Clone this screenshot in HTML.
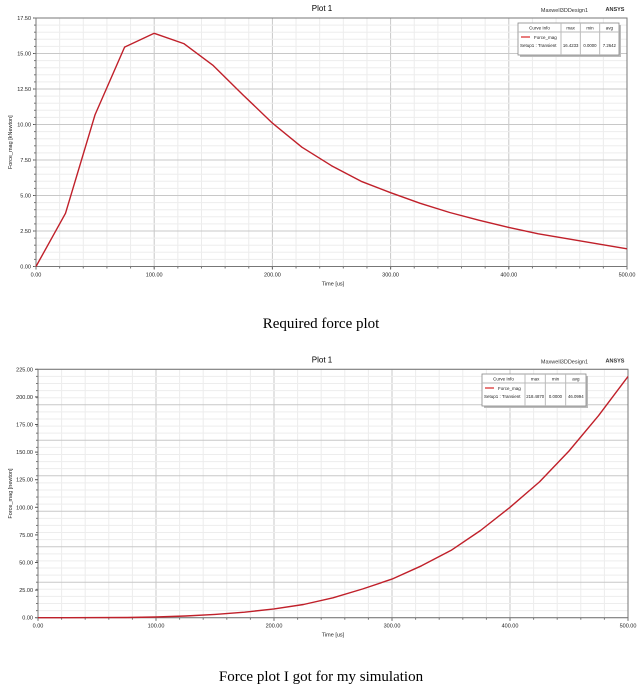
<!DOCTYPE html>
<html><head><meta charset="utf-8">
<style>
body{margin:0;background:#fff;width:642px;height:696px;overflow:hidden;font-family:"Liberation Sans",sans-serif;}
svg{display:block}
.cap{position:absolute;left:0;width:642px;text-align:center;font-family:"Liberation Serif",serif;font-size:15px;color:#000}
</style></head>
<body>
<svg id="chart" width="642" height="696" style="position:absolute;left:0;top:0"></svg>
<div class="cap" style="top:316px">Required force plot</div>
<div class="cap" style="top:669px">Force plot I got for my simulation</div>
<script>
const times = [0,25,50,75,100,125,150,175,200,225,250,275,300,325,350,375,400,425,450,475,500];
const force1 = [0,3.75,10.7,15.45,16.42,15.7,14.15,12.1,10.1,8.4,7.1,6.0,5.2,4.45,3.8,3.25,2.75,2.3,1.95,1.6,1.25];
const force2 = [0,0,0.05,0.2,0.6,1.5,3,5,8,12,18,26,35,47,61,79,100,123,151,183,218.5];
const xTicks = [0,100,200,300,400,500];
const yTicks1 = [0,2.5,5,7.5,10,12.5,15,17.5];
const yTicks2 = [0,25,50,75,100,125,150,175,200,225];
const legend1 = ["16.4233","0.0000","7.2642"];
const legend2 = ["218.4870","0.0000","46.0994"];

const NS="http://www.w3.org/2000/svg";
const svg=document.getElementById('chart');
function mk(tag,attrs,parent){const e=document.createElementNS(NS,tag);for(const k in attrs)e.setAttribute(k,attrs[k]);(parent||svg).appendChild(e);return e;}

function drawPlot(o){
  const g=mk('g',{});
  
  
  const sx=v=>o.x0+(v-0)/(500)*(o.x1-o.x0);
  const sy=v=>o.y0-(v/o.ymax)*(o.y0-o.y1);
  // minor vertical grid
  for(let v=0;v<=500;v+=20){const x=sx(v);mk('line',{x1:x,x2:x,y1:o.y1,y2:o.y0,stroke:v%100===0?'#c8c8c8':'#ececec','stroke-width':1},g);}
  const ystep=o.ymax/35;
  for(let i=0;i<=35;i++){const y=sy(i*ystep);mk('line',{x1:o.x0,x2:o.x1,y1:y,y2:y,stroke:i%5===0?'#c8c8c8':'#ededed','stroke-width':1},g);}
  // axes
  mk('rect',{x:o.x0,y:o.y1,width:o.x1-o.x0,height:o.y0-o.y1,fill:'none',stroke:'#777','stroke-width':1},g);
  // ticks
  xTicks.forEach(v=>{const x=sx(v);
    mk('line',{x1:x,x2:x,y1:o.y0,y2:o.y0+3,stroke:'#555'},g);
    const t=mk('text',{x:x,y:o.y0+10,'font-size':5.5,'text-anchor':'middle',fill:'#222'},g);t.textContent=v.toFixed(2);
    
    
  });
  for(let v=0;v<=500;v+=20){const x=sx(v);mk('line',{x1:x,x2:x,y1:o.y0,y2:o.y0+2,stroke:'#777'},g);}
  o.yTicks.forEach(v=>{const y=sy(v);
    mk('line',{x1:o.x0-3,x2:o.x0,y1:y,y2:y,stroke:'#555'},g);
    const t=mk('text',{x:o.x0-5,y:y+2,'font-size':5.5,'text-anchor':'end',fill:'#222'},g);t.textContent=v.toFixed(2);
    
    
  });
  for(let i=0;i<=35;i++){const y=sy(i*ystep);mk('line',{x1:o.x0-2,x2:o.x0,y1:y,y2:y,stroke:'#777'},g);}
  // titles
  let t=mk('text',{x:322,y:o.y1-7,'font-size':8,'text-anchor':'middle',fill:'#000'},g);t.textContent='Plot 1';
  
  
  t=mk('text',{x:588,y:o.y1-6,'font-size':5.5,'text-anchor':'end',fill:'#333'},g);t.textContent='Maxwell3DDesign1';
  
  
  t=mk('text',{x:615,y:o.y1-7,'font-size':5.5,'text-anchor':'middle',fill:'#333','font-weight':'bold'},g);t.textContent='ANSYS';
  
  
  t=mk('text',{x:333,y:o.y0+19,'font-size':5.5,'text-anchor':'middle',fill:'#222'},g);t.textContent='Time [us]';
  
  
  const ym=(o.y0+o.y1)/2;
  t=mk('text',{x:12,y:ym,'font-size':5.5,'text-anchor':'middle',fill:'#222',transform:`rotate(-90 12 ${ym})`},g);t.textContent=o.ylabel;
  
  
  // line
  const pts=times.map((tm,i)=>sx(tm).toFixed(1)+','+sy(o.data[i]).toFixed(1)).join(' ');
  const pl=mk('polyline',{points:pts,fill:'none',stroke:'#c0202a','stroke-width':1.4,'stroke-linejoin':'round'},g);
  
  
  // legend
  const L=o.leg;const lg=mk('g',{},g);
  
  
  mk('rect',{x:L.x+2,y:L.y+2,width:L.w,height:32,fill:'#bbb'},lg);
  mk('rect',{x:L.x,y:L.y,width:L.w,height:32,fill:'#fff',stroke:'#888','stroke-width':0.8},lg);
  const c1=L.x+L.c1,cw=(L.w-L.c1)/3;
  mk('line',{x1:L.x,x2:L.x+L.w,y1:L.y+9,y2:L.y+9,stroke:'#bbb'},lg);
  for(let i=0;i<3;i++)mk('line',{x1:c1+i*cw,x2:c1+i*cw,y1:L.y,y2:L.y+32,stroke:'#bbb'},lg);
  let lt=mk('text',{x:L.x+L.c1/2,y:L.y+6.5,'font-size':4.5,'text-anchor':'middle',fill:'#222'},lg);lt.textContent='Curve Info';
  ['max','min','avg'].forEach((h,i)=>{const q=mk('text',{x:c1+cw*(i+0.5),y:L.y+6.5,'font-size':4.5,'text-anchor':'middle',fill:'#222'},lg);q.textContent=h;});
  mk('line',{x1:L.x+3,x2:L.x+12,y1:L.y+14,y2:L.y+14,stroke:'#e05050','stroke-width':1.5},lg);
  lt=mk('text',{x:L.x+16,y:L.y+16,'font-size':4.5,fill:'#222'},lg);lt.textContent='Force_mag';
  lt=mk('text',{x:L.x+2,y:L.y+24,'font-size':4.5,fill:'#222'},lg);lt.textContent='Setup1 : Transient';
  o.legVals.forEach((v,i)=>{const q=mk('text',{x:c1+cw*(i+0.5),y:L.y+24,'font-size':4.3,'text-anchor':'middle',fill:'#222'},lg);q.textContent=v;});
}
drawPlot({name:'required-force-plot',x0:36,x1:627,y0:266.5,y1:18,ymax:17.5,yTicks:yTicks1,data:force1,ylabel:'Force_mag [kNewton]',leg:{x:518,y:23,w:101,c1:43},legVals:legend1});
drawPlot({name:'simulation-force-plot',x0:38,x1:628,y0:617.7,y1:369.3,ymax:225,yTicks:yTicks2,data:force2,ylabel:'Force_mag [newton]',leg:{x:482,y:374,w:104,c1:43},legVals:legend2});
</script>
</body></html>
